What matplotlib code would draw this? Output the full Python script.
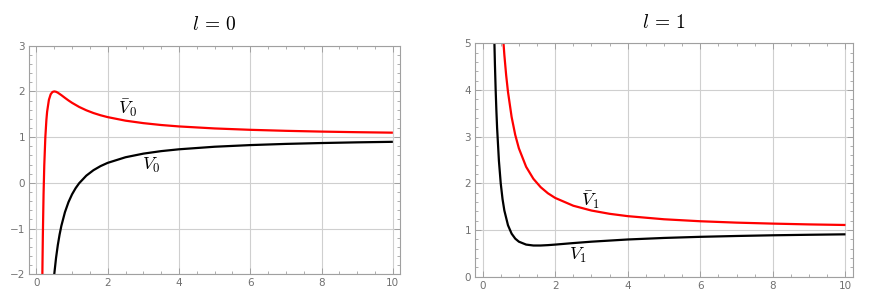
import matplotlib.pyplot as plt
from matplotlib.ticker import MultipleLocator

plt.rcParams['mathtext.fontset'] = 'cm'

# l = 0 panel
x_vbar0 = [0.166, 0.17, 0.18, 0.2, 0.22, 0.25, 0.28, 0.3, 0.35, 0.4, 0.45, 0.5, 0.55,
           0.6, 0.7, 0.8, 0.9, 1.0, 1.2, 1.4, 1.6, 1.8, 2.0, 2.5, 3.0, 3.5, 4.0,
           5.0, 6.0, 7.0, 8.0, 9.0, 10.0]
vbar0 = [-2.048, -1.768, -1.160, -0.25, 0.380, 1.0, 1.382, 1.556, 1.816, 1.9375, 1.988,
         2.0, 1.992, 1.972, 1.918, 1.859, 1.802, 1.75, 1.660, 1.587, 1.527, 1.478,
         1.4375, 1.36, 1.306, 1.265, 1.234, 1.19, 1.160, 1.138, 1.121, 1.108, 1.0975]

x_v0 = [0.49, 0.5, 0.55, 0.6, 0.65, 0.7, 0.8, 0.9, 1.0, 1.1, 1.2, 1.4, 1.6, 1.8, 2.0,
        2.5, 3.0, 3.5, 4.0, 5.0, 6.0, 7.0, 8.0, 9.0, 10.0]
v0 = [-2.082, -2.0, -1.644, -1.361, -1.130, -0.939, -0.641, -0.420, -0.25, -0.116,
      -0.007, 0.158, 0.277, 0.367, 0.4375, 0.56, 0.639, 0.694, 0.734, 0.79, 0.826,
      0.852, 0.871, 0.886, 0.8975]

# l = 1 panel
x_vbar1 = [0.56, 0.6, 0.65, 0.7, 0.8, 0.9, 1.0, 1.2, 1.4, 1.6, 1.8, 2.0, 2.5, 3.0,
           3.5, 4.0, 5.0, 6.0, 7.0, 8.0, 9.0, 10.0]
vbar1 = [5.178, 4.750, 4.314, 3.959, 3.422, 3.037, 2.75, 2.354, 2.097, 1.918, 1.787,
         1.6875, 1.52, 1.417, 1.347, 1.297, 1.23, 1.1875, 1.158, 1.137, 1.120, 1.1075]

x_v1 = [0.32, 0.34, 0.36, 0.38, 0.4, 0.45, 0.5, 0.55, 0.6, 0.7, 0.8, 0.9, 1.0, 1.2,
        1.4, 1.6, 1.8, 2.0, 2.5, 3.0, 4.0, 5.0, 6.0, 7.0, 8.0, 9.0, 10.0]
v1 = [5.199, 4.547, 4.009, 3.562, 3.1875, 2.482, 2.0, 1.661, 1.417, 1.102, 0.922,
      0.815, 0.75, 0.6875, 0.668, 0.668, 0.676, 0.6875, 0.72, 0.75, 0.797, 0.83,
      0.854, 0.872, 0.887, 0.898, 0.9075]

fig = plt.figure(figsize=(8.72, 3.06), dpi=100)
ax0 = fig.add_axes([0.0336, 0.1036, 0.4251, 0.7471])
ax1 = fig.add_axes([0.5451, 0.0958, 0.4328, 0.7627])

frame = '#a0a0a0'
for ax in (ax0, ax1):
    ax.set_xlim(-0.2, 10.2)
    ax.xaxis.set_major_locator(MultipleLocator(2))
    ax.xaxis.set_minor_locator(MultipleLocator(0.5))
    ax.yaxis.set_major_locator(MultipleLocator(1))
    ax.yaxis.set_minor_locator(MultipleLocator(0.2))
    ax.grid(True, which='major', color='#cfcfcf', lw=0.8)
    ax.set_axisbelow(True)
    ax.tick_params(which='both', direction='in', top=True, right=True,
                   color=frame, labelcolor='#707070', labelsize=7.5, pad=3)
    ax.tick_params(which='major', length=4, width=0.7)
    ax.tick_params(which='minor', length=2, width=0.6)
    for s in ax.spines.values():
        s.set_color(frame)
        s.set_linewidth(0.8)

ax0.set_ylim(-2, 3)
ax0.plot(x_vbar0, vbar0, color='#ff0000', lw=1.6, solid_capstyle='butt')
ax0.plot(x_v0, v0, color='black', lw=1.6, solid_capstyle='butt')
ax0.text(2.57, 1.64, r'$\bar{V}_0$', fontsize=13, ha='center', va='center')
ax0.text(3.21, 0.39, r'$V_0$', fontsize=13, ha='center', va='center')
ax0.set_title(r'$l\,=\,0$', fontsize=14, pad=11)

ax1.set_ylim(0, 5)
ax1.plot(x_vbar1, vbar1, color='#ff0000', lw=1.6, solid_capstyle='butt')
ax1.plot(x_v1, v1, color='black', lw=1.6, solid_capstyle='butt')
ax1.text(2.96, 1.64, r'$\bar{V}_1$', fontsize=13, ha='center', va='center')
ax1.text(2.62, 0.45, r'$V_1$', fontsize=13, ha='center', va='center')
ax1.set_title(r'$l\,=\,1$', fontsize=14, pad=11)

fig.savefig('out.png', dpi=100)
